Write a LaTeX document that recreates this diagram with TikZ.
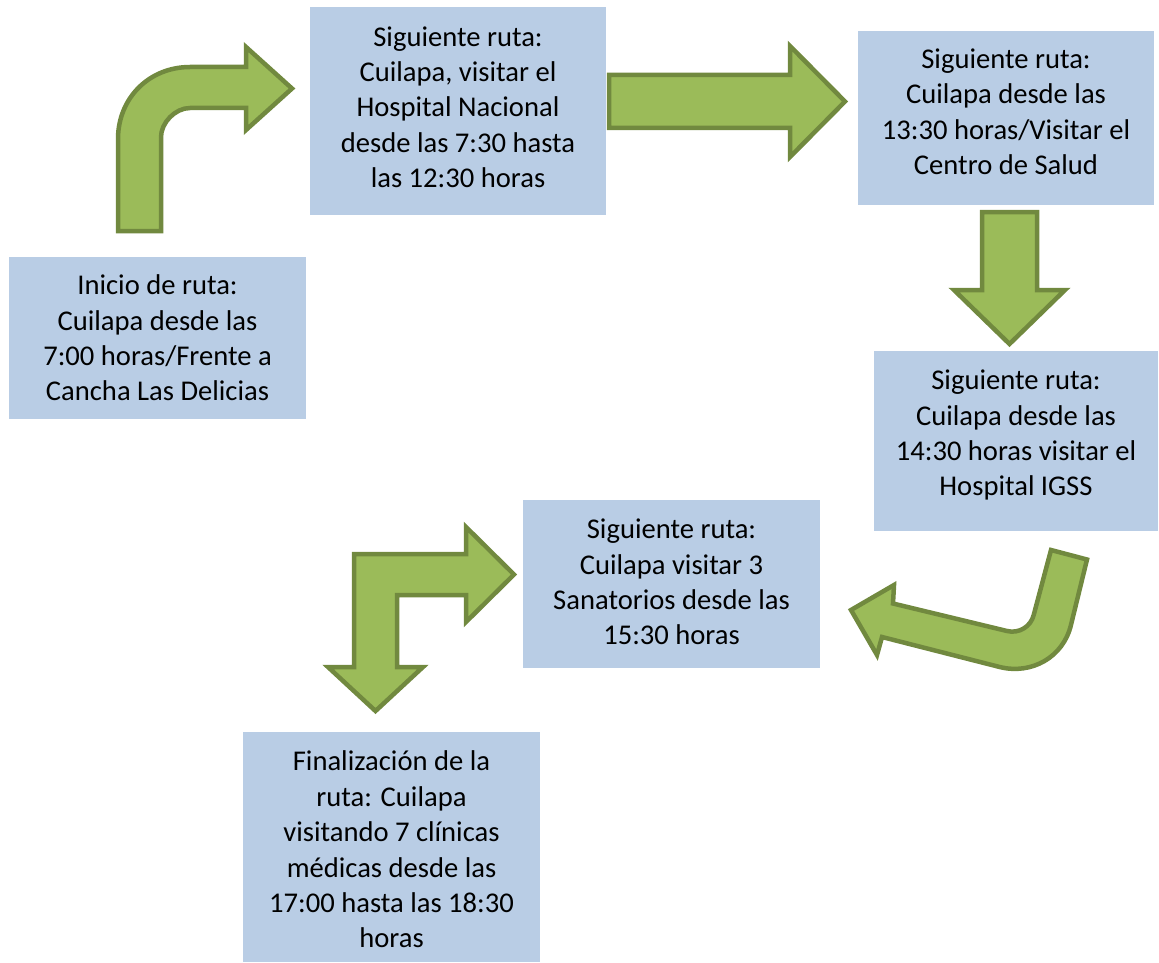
\documentclass[tikz,border=0pt]{standalone}
\usepackage{fontspec}
\setmainfont{Carlito}
\definecolor{boxblue}{HTML}{B9CDE5}
\definecolor{arrowgreen}{HTML}{9BBB59}
\definecolor{arrowline}{HTML}{71893F}
\newcommand\lowpad[1]{\rule[-#1]{0pt}{#1}}
\newcommand\toppad[1]{\rule{0pt}{#1}}
\tikzset{
  infobox/.style={fill=boxblue, draw=none, align=center, inner sep=2pt,
    font=\fontsize{28.6pt}{35.4pt}\selectfont, text=black},
  blockarrow/.style={fill=arrowgreen, draw=arrowline, line width=4.5pt, line join=miter}
}
\begin{document}
\begin{tikzpicture}[x=1pt,y=-1pt]
\useasboundingbox (0,0) rectangle (1159,963);
% boxes
\node[infobox, minimum width=297pt, minimum height=162pt] (inicio) at (157.5,338)
  {Inicio de ruta:\\Cuilapa desde las\\7:00 horas/Frente a\\Cancha Las Delicias};
\node[infobox, minimum width=296pt, minimum height=208pt] (nacional) at (458,111)
  {Siguiente ruta:\\Cuilapa, visitar el\\Hospital Nacional\\desde las 7:30 hasta\\las 12:30 horas\lowpad{8pt}};
\node[infobox, minimum width=296pt, minimum height=174pt] (centro) at (1006,118)
  {Siguiente ruta:\\Cuilapa desde las\\13:30 horas/Visitar el\\Centro de Salud\lowpad{13pt}};
\node[infobox, minimum width=284pt, minimum height=180pt] (igss) at (1016,441)
  {Siguiente ruta:\\Cuilapa desde las\\14:30 horas visitar el\\Hospital IGSS\lowpad{16pt}};
\node[infobox, minimum width=297pt, minimum height=168pt] (sanatorios) at (671.5,584)
  {Siguiente ruta:\\Cuilapa visitar 3\\Sanatorios desde las\\15:30 horas\lowpad{4pt}};
\node[infobox, minimum width=297pt, minimum height=230pt] (final) at (391.5,847)
  {\toppad{25pt}Finalización de la\\ruta: Cuilapa\\visitando 7 clínicas\\médicas desde las\\17:00 hasta las 18:30\\horas};
% arrow A: bent up-right
\draw[blockarrow] (118,231) -- (118,139)
  .. controls (118,98.1) and (149.1,67) .. (190,67)
  -- (246,67) -- (246,47) -- (292,88.5) -- (246,130) -- (246,108) -- (190,108)
  .. controls (175.1,108) and (161,122.9) .. (161,137) -- (161,231) -- cycle;
% arrow B: right
\draw[blockarrow] (609,75) -- (790,75) -- (790,46) -- (845,101.5) -- (790,157)
  -- (790,128) -- (609,128) -- cycle;
% arrow C: down
\draw[blockarrow] (982,212) -- (1037,212) -- (1037,290) -- (1065,290) -- (1009.5,344)
  -- (954,290) -- (982,290) -- cycle;
% arrow D: U-turn left
\draw[blockarrow] (1051,550) -- (1087,559.5) -- (1071,624.8)
  .. controls (1063.5,656.9) and (1031.9,675) .. (999.7,667)
  -- (882,637) -- (877,655) -- (851,610) -- (894,585) -- (893,603.5) -- (1007,631)
  .. controls (1018.8,633.9) and (1030.8,626.7) .. (1033.7,615) -- cycle;
% arrow E: right and down
\draw[blockarrow] (354,554) -- (466,554) -- (466,527) -- (514,574.5) -- (466,622)
  -- (466,595) -- (397,595) -- (397,667) -- (423,667) -- (375.5,711) -- (328,667)
  -- (354,667) -- cycle;
\end{tikzpicture}
\end{document}
